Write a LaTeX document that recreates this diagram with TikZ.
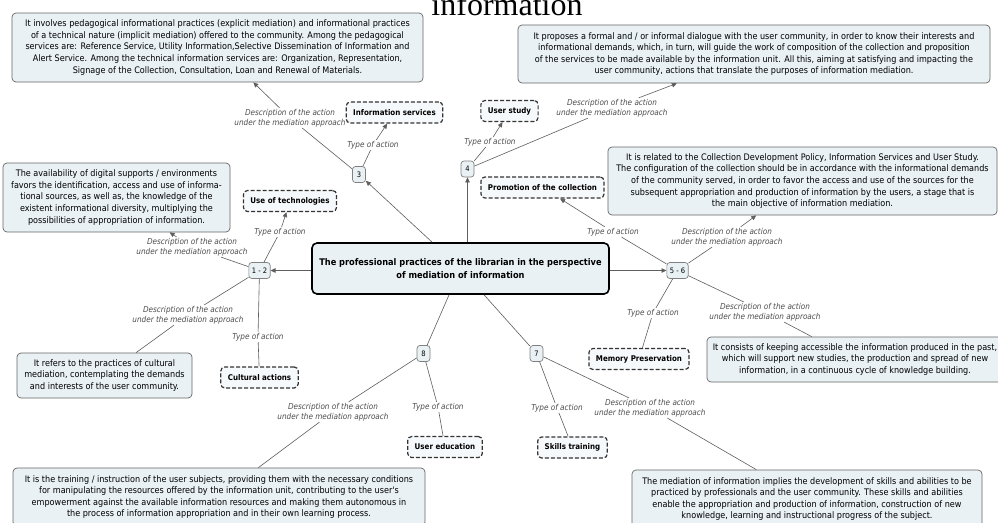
\documentclass[tikz,border=0pt]{standalone}
\usepackage{fontspec}
\usetikzlibrary{arrows.meta}
\newfontfamily\mapfont{DejaVu Sans Condensed}
\newfontfamily\titlefont{Liberation Serif}
\definecolor{boxfill}{HTML}{E9F1F4}
\definecolor{linkgray}{HTML}{5E5E5E}
\newcommand{\mediationtext}{Description of the action\\under the mediation approach}

\begin{document}
\begin{tikzpicture}[x=1pt,y=-1pt,
  mainbox/.style={draw=black,line width=1.6pt,fill=boxfill,rounded corners=5pt,align=center,
    font=\mapfont\bfseries\fontsize{9.15}{12.5}\selectfont},
  numbox/.style={draw=gray,line width=0.7pt,fill=boxfill,rounded corners=3pt,
    minimum width=13pt,minimum height=16pt,inner xsep=3pt,font=\mapfont\fontsize{7.5}{8}\selectfont},
  actionbox/.style={draw=black!80,line width=1.2pt,dash pattern=on 4pt off 2pt,fill=boxfill!40,
    rounded corners=4pt,minimum height=21pt,inner xsep=7pt,font=\mapfont\bfseries\fontsize{7.9}{9}\selectfont},
  descbox/.style={draw=gray!80!black,line width=0.7pt,fill=boxfill,rounded corners=4pt,align=center,
    font=\mapfont\fontsize{9}{11.6}\selectfont},
  linklabel/.style={align=center,text=black!70,inner sep=1pt,
    font=\mapfont\itshape\fontsize{8.1}{10}\selectfont},
  link/.style={draw=linkgray,line width=0.6pt},
  linkarrow/.style={link,-{Triangle[length=5pt,width=4.5pt]}}]

\useasboundingbox (0,0) rectangle (998,522);
\fill[white] (0,0) rectangle (998,522);
\clip (0,0) rectangle (998,522);

% title cut by the top edge
\node[font=\titlefont\fontsize{32}{32}\selectfont,anchor=base,inner sep=0pt] (title) at (507,16) {information};

% central concept and numbered practices
\node[mainbox,minimum width=297pt,minimum height=51pt] (main) at (460.5,268.5)
  {The professional practices of the librarian in the perspective\\of mediation of information};
\node[numbox] (n12) at (259.5,270.5) {1 - 2};
\node[numbox] (n3) at (359,174.5) {3};
\node[numbox] (n4) at (467.5,169) {4};
\node[numbox] (n56) at (677.5,270.5) {5 - 6};
\node[numbox] (n7) at (536.5,353.5) {7};
\node[numbox] (n8) at (423.5,353.5) {8};

% types of action
\node[actionbox] (infoType) at (394.5,112.5) {Information services};
\node[actionbox] (studyType) at (509.5,111) {User study};
\node[actionbox] (techType) at (290,201) {Use of technologies};
\node[actionbox] (promoType) at (542.5,187.5) {Promotion of the collection};
\node[actionbox] (cultType) at (259.5,377.5) {Cultural actions};
\node[actionbox] (memType) at (639,359) {Memory Preservation};
\node[actionbox] (eduType) at (445,447) {User education};
\node[actionbox] (skillType) at (572.5,447.5) {Skills training};

% descriptions
\node[descbox,minimum width=411pt,minimum height=69pt] (infoDesc) at (217.5,47.5)
  {It involves pedagogical informational practices (explicit mediation) and informational practices\\
   of a technical nature (implicit mediation) offered to the community. Among the pedagogical\\
   services are: Reference Service, Utility Information,Selective Dissemination of Information and\\
   Alert Service. Among the technical information services are: Organization, Representation,\\
   Signage of the Collection, Consultation, Loan and Renewal of Materials.};
\node[descbox,minimum width=472pt,minimum height=58pt] (studyDesc) at (754,54)
  {It proposes a formal and / or informal dialogue with the user community, in order to know their interests and\\
   informational demands, which, in turn, will guide the work of composition of the collection and proposition\\
   of the services to be made available by the information unit. All this, aiming at satisfying and impacting the\\
   user community, actions that translate the purposes of information mediation.};
\node[descbox,minimum width=227pt,minimum height=69pt] (techDesc) at (116.5,197.5)
  {The availability of digital supports / environments\\
   favors the identification, access and use of informa-\\
   tional sources, as well as, the knowledge of the\\
   existent informational diversity, multiplying the\\
   possibilities of appropriation of information.};
\node[descbox,minimum width=389pt,minimum height=68pt] (promoDesc) at (802.5,181)
  {It is related to the Collection Development Policy, Information Services and User Study.\\
   The configuration of the collection should be in accordance with the informational demands\\
   of the community served, in order to favor the access and use of the sources for the\\
   subsequent appropriation and production of information by the users, a stage that is\\
   the main objective of information mediation.};
\node[descbox,minimum width=175pt,minimum height=45pt] (cultDesc) at (104.5,375.5)
  {It refers to the practices of cultural\\
   mediation, contemplating the demands\\
   and interests of the user community.};
\node[descbox,minimum width=296pt,minimum height=45pt] (memDesc) at (855,359.5)
  {It consists of keeping accessible the information produced in the past,\\
   which will support new studies, the production and spread of new\\
   information, in a continuous cycle of knowledge building.};
\node[descbox,minimum width=412pt,minimum height=58pt] (eduDesc) at (219,497)
  {It is the training / instruction of the user subjects, providing them with the necessary conditions\\
   for manipulating the resources offered by the information unit, contributing to the user's\\
   empowerment against the available information resources and making them autonomous in\\
   the process of information appropriation and in their own learning process.};
\node[descbox,minimum width=350pt,minimum height=58pt] (skillDesc) at (807,499)
  {The mediation of information implies the development of skills and abilities to be\\
   practiced by professionals and the user community. These skills and abilities\\
   enable the appropriation and production of information, construction of new\\
   knowledge, learning and instructional progress of the subject.};

% linking phrases
\node[linklabel] (l3d) at (290,118) {\mediationtext};
\node[linklabel] (l3t) at (373,145) {Type of action};
\node[linklabel] (l4d) at (612,108) {\mediationtext};
\node[linklabel] (l4t) at (490,142) {Type of action};
\node[linklabel] (l12d) at (192,247) {\mediationtext};
\node[linklabel] (l12t) at (280,232) {Type of action};
\node[linklabel] (l12c) at (188,315) {\mediationtext};
\node[linklabel] (l12ct) at (258,337) {Type of action};
\node[linklabel] (l56d) at (727,237) {\mediationtext};
\node[linklabel] (l56t) at (613,232) {Type of action};
\node[linklabel] (l56md) at (765,312) {\mediationtext};
\node[linklabel] (l56mt) at (653,313) {Type of action};
\node[linklabel] (l8d) at (333,412) {\mediationtext};
\node[linklabel] (l8t) at (438,407) {Type of action};
\node[linklabel] (l7d) at (650,408) {\mediationtext};
\node[linklabel] (l7t) at (557,408) {Type of action};

% from the central concept
\draw[linkarrow] (main.west |- n12) -- (n12);
\draw[linkarrow] (main.east |- n56) -- (n56);
\draw[linkarrow] (main) -- (n3);
\draw[linkarrow] (main.north -| n4) -- (n4);
\draw[link] (main) -- (n8);
\draw[link] (main) -- (n7);

% 3 and 4
\draw[link] (n3) -- (l3d);
\draw[linkarrow] (l3d) -- (infoDesc);
\draw[link] (n3) -- (l3t);
\draw[linkarrow] (l3t) -- (infoType);
\draw[link] (n4) -- (l4d);
\draw[linkarrow] (l4d) -- (studyDesc);
\draw[link] (n4) -- (l4t);
\draw[linkarrow] (l4t) -- (studyType);

% 1 - 2
\draw[link] (n12) -- (l12d);
\draw[linkarrow] (l12d) -- (techDesc);
\draw[link] (n12) -- (l12t);
\draw[linkarrow] (l12t) -- (techType);
\draw[link] (n12) -- (l12c) -- (cultDesc);
\draw[link] (n12) -- (l12ct) -- (cultType);

% 5 - 6
\draw[link] (n56) -- (l56t);
\draw[linkarrow] (l56t) -- (promoType);
\draw[link] (n56) -- (l56d);
\draw[linkarrow] (l56d) -- (promoDesc);
\draw[link] (n56) -- (l56mt) -- (memType);
\draw[link] (n56) -- (l56md) -- (memDesc);

% 7 and 8
\draw[link] (n8) -- (l8d) -- (eduDesc);
\draw[link] (n8) -- (l8t) -- (eduType);
\draw[link] (n7) -- (l7t) -- (skillType);
\draw[link] (n7) -- (l7d) -- (skillDesc);

\end{tikzpicture}
\end{document}
